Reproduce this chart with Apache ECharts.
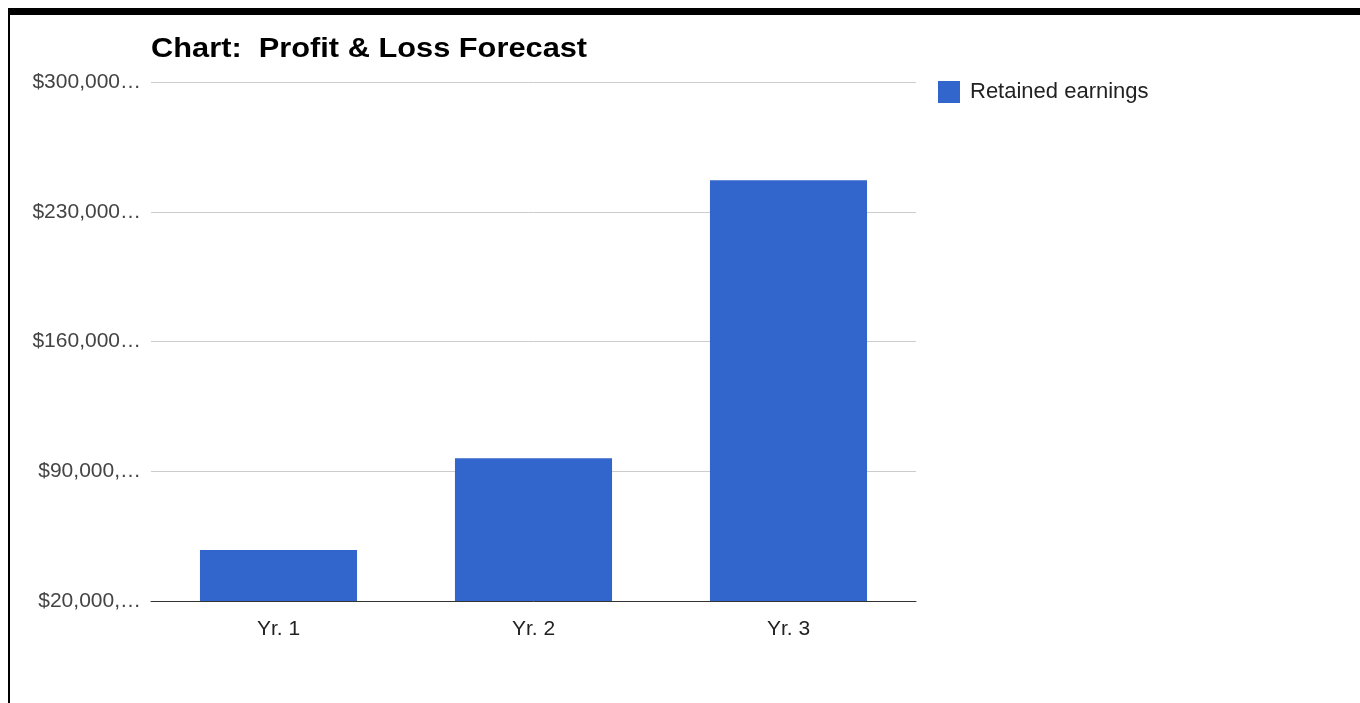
<!DOCTYPE html>
<html>
<head>
<meta charset="utf-8">
<script src="https://cdn.jsdelivr.net/npm/echarts@6/dist/echarts.min.js"></script>
<style>
  html, body { margin: 0; padding: 0; background: #fff; }
  #frame { position: absolute; left: 8px; top: 8px; width: 1352px; height: 695px;
           border-top: 7px solid #000; border-left: 2px solid #000; box-sizing: border-box; }
  #chart { position: absolute; left: 0; top: 0; width: 1360px; height: 703px; }
</style>
</head>
<body>
<div id="frame"></div>
<div id="chart"></div>
<script>
const years = ['Yr. 1', 'Yr. 2', 'Yr. 3'];
const retainedEarnings = [47500, 97000, 247000];
const yTicks = [20000, 90000, 160000, 230000, 300000];
const yTickLabels = ['$20,000,…', '$90,000,…', '$160,000…', '$230,000…', '$300,000…'];
const chartTitle = 'Chart:  Profit & Loss Forecast';

const FONT = 'Liberation Sans, Arial, sans-serif';
const chart = echarts.init(document.getElementById('chart'));
chart.setOption({
  animation: false,
  graphic: [{
    type: 'text',
    x: 151, y: 36,
    scaleX: 1.14,
    style: {
      text: chartTitle,
      font: 'bold 27px Liberation Sans, Arial, sans-serif',
      fill: '#000',
      verticalAlign: 'top'
    }
  }],
  legend: {
    left: 933, top: 76,
    orient: 'vertical',
    itemWidth: 22, itemHeight: 22,
    icon: 'rect',
    textStyle: { fontFamily: FONT, fontSize: 22, color: '#222', padding: [0, 0, 0, 5] },
    data: ['Retained earnings']
  },
  grid: { left: 151, right: 444, top: 82, bottom: 102 },
  xAxis: {
    type: 'category',
    data: years,
    axisTick: { show: false },
    axisLine: { lineStyle: { color: '#333', width: 1 } },
    axisLabel: { margin: 18, fontFamily: FONT, fontSize: 21, color: '#222' }
  },
  yAxis: {
    type: 'value',
    min: 20000, max: 300000, interval: 70000,
    axisLine: { show: false },
    axisTick: { show: false },
    splitLine: { lineStyle: { color: '#cccccc', width: 1 } },
    axisLabel: {
      margin: 10,
      fontFamily: FONT, fontSize: 21, color: '#444',
      formatter: v => { const i = yTicks.indexOf(v); return i >= 0 ? yTickLabels[i] : ''; }
    }
  },
  series: [{
    name: 'Retained earnings',
    type: 'bar',
    data: retainedEarnings,
    barWidth: '61.6%',
    itemStyle: { color: '#3366cc' }
  }]
});
</script>
</body>
</html>
